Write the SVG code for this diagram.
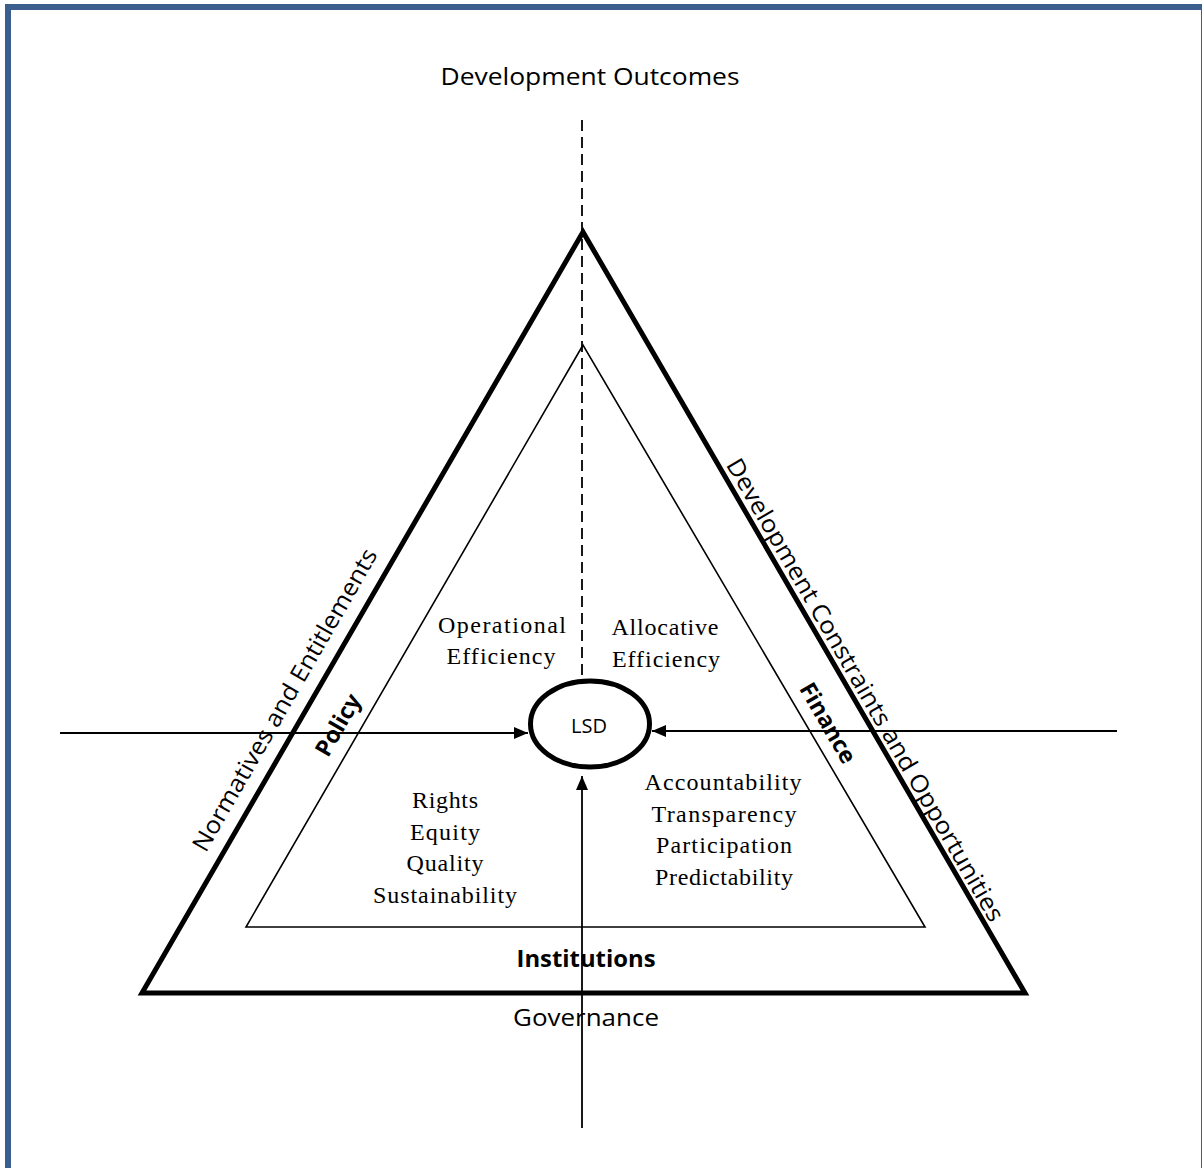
<svg xmlns="http://www.w3.org/2000/svg" width="1202" height="1168" viewBox="0 0 1202 1168">
<style>
.sans{font-family:"Open Sans","Liberation Sans",sans-serif;fill:#000}
.serif{font-family:"Liberation Serif","Times New Roman",serif;fill:#000;font-size:24px;text-anchor:middle}
.bold{font-weight:bold}
.thin{fill:none;stroke:#000;stroke-width:1.6}
</style>
<defs>
<marker id="ah" viewBox="0 0 14 12" refX="14" refY="6" markerWidth="14" markerHeight="12" markerUnits="userSpaceOnUse" orient="auto">
<path d="M0,0 L14,6 L0,12 Z" fill="#000"/>
</marker>
</defs>
<rect x="8" y="7" width="1196" height="1172" fill="#fff" stroke="#3a5f8f" stroke-width="6"/>
<g id="outer-triangle">
<polygon points="583,232 142,993 1025,993" fill="none" stroke="#000" stroke-width="5" stroke-linejoin="miter"/>
</g>
<g id="inner-triangle">
<polygon points="583,345 246,927 925,927" class="thin"/>
</g>
<g id="connectors">
<line x1="582" y1="120" x2="582" y2="682" stroke="#000" stroke-width="1.8" stroke-dasharray="11,6"/>
<line x1="60" y1="733" x2="528" y2="733" stroke="#000" stroke-width="1.8" marker-end="url(#ah)"/>
<line x1="1117" y1="731" x2="652" y2="731" stroke="#000" stroke-width="1.8" marker-end="url(#ah)"/>
<line x1="582" y1="1128" x2="582" y2="776" stroke="#000" stroke-width="1.8" marker-end="url(#ah)"/>
</g>
<g id="lsd">
<ellipse cx="590" cy="724" rx="59.5" ry="43" fill="#fff" stroke="#000" stroke-width="5"/>
<text class="sans" x="589" y="733" font-size="20" text-anchor="middle">LSD</text>
</g>
<g id="title">
<text class="sans" x="590" y="85" font-size="24" text-anchor="middle" textLength="299" lengthAdjust="spacingAndGlyphs">Development Outcomes</text>
</g>
<g id="operational">
<text class="serif" x="502" y="633" textLength="128">Operational</text>
<text class="serif" x="501" y="664" textLength="109">Efficiency</text>
</g>
<g id="allocative">
<text class="serif" x="665" y="635" textLength="107">Allocative</text>
<text class="serif" x="666" y="667" textLength="108">Efficiency</text>
</g>
<g id="rights">
<text class="serif" x="445" y="808" textLength="66">Rights</text>
<text class="serif" x="445" y="840" textLength="70">Equity</text>
<text class="serif" x="445" y="871" textLength="77">Quality</text>
<text class="serif" x="445" y="903" textLength="144">Sustainability</text>
</g>
<g id="accountability">
<text class="serif" x="723" y="790" textLength="157">Accountability</text>
<text class="serif" x="724" y="822" textLength="145">Transparency</text>
<text class="serif" x="724" y="853" textLength="136">Participation</text>
<text class="serif" x="724" y="885" textLength="138">Predictability</text>
</g>
<g id="institutions">
<text class="sans bold" x="586" y="967" font-size="23" text-anchor="middle" textLength="139" lengthAdjust="spacingAndGlyphs">Institutions</text>
</g>
<g id="governance">
<text class="sans" x="586" y="1026" font-size="24" text-anchor="middle" textLength="146" lengthAdjust="spacingAndGlyphs">Governance</text>
</g>
<g id="policy">
<text class="sans bold" transform="translate(338,725) rotate(-60)" x="0" y="8" font-size="23" text-anchor="middle">Policy</text>
</g>
<g id="finance">
<text class="sans bold" transform="translate(828,723) rotate(60)" x="0" y="8" font-size="23" text-anchor="middle">Finance</text>
</g>
<g id="normatives">
<text class="sans" transform="translate(285,700) rotate(-60)" x="0" y="8" font-size="24" text-anchor="middle" textLength="345" lengthAdjust="spacingAndGlyphs">Normatives and Entitlements</text>
</g>
<g id="constraints">
<text class="sans" transform="translate(865,690) rotate(60)" x="0" y="8" font-size="24" text-anchor="middle" textLength="530" lengthAdjust="spacingAndGlyphs">Development Constraints and Opportunities</text>
</g>
</svg>
